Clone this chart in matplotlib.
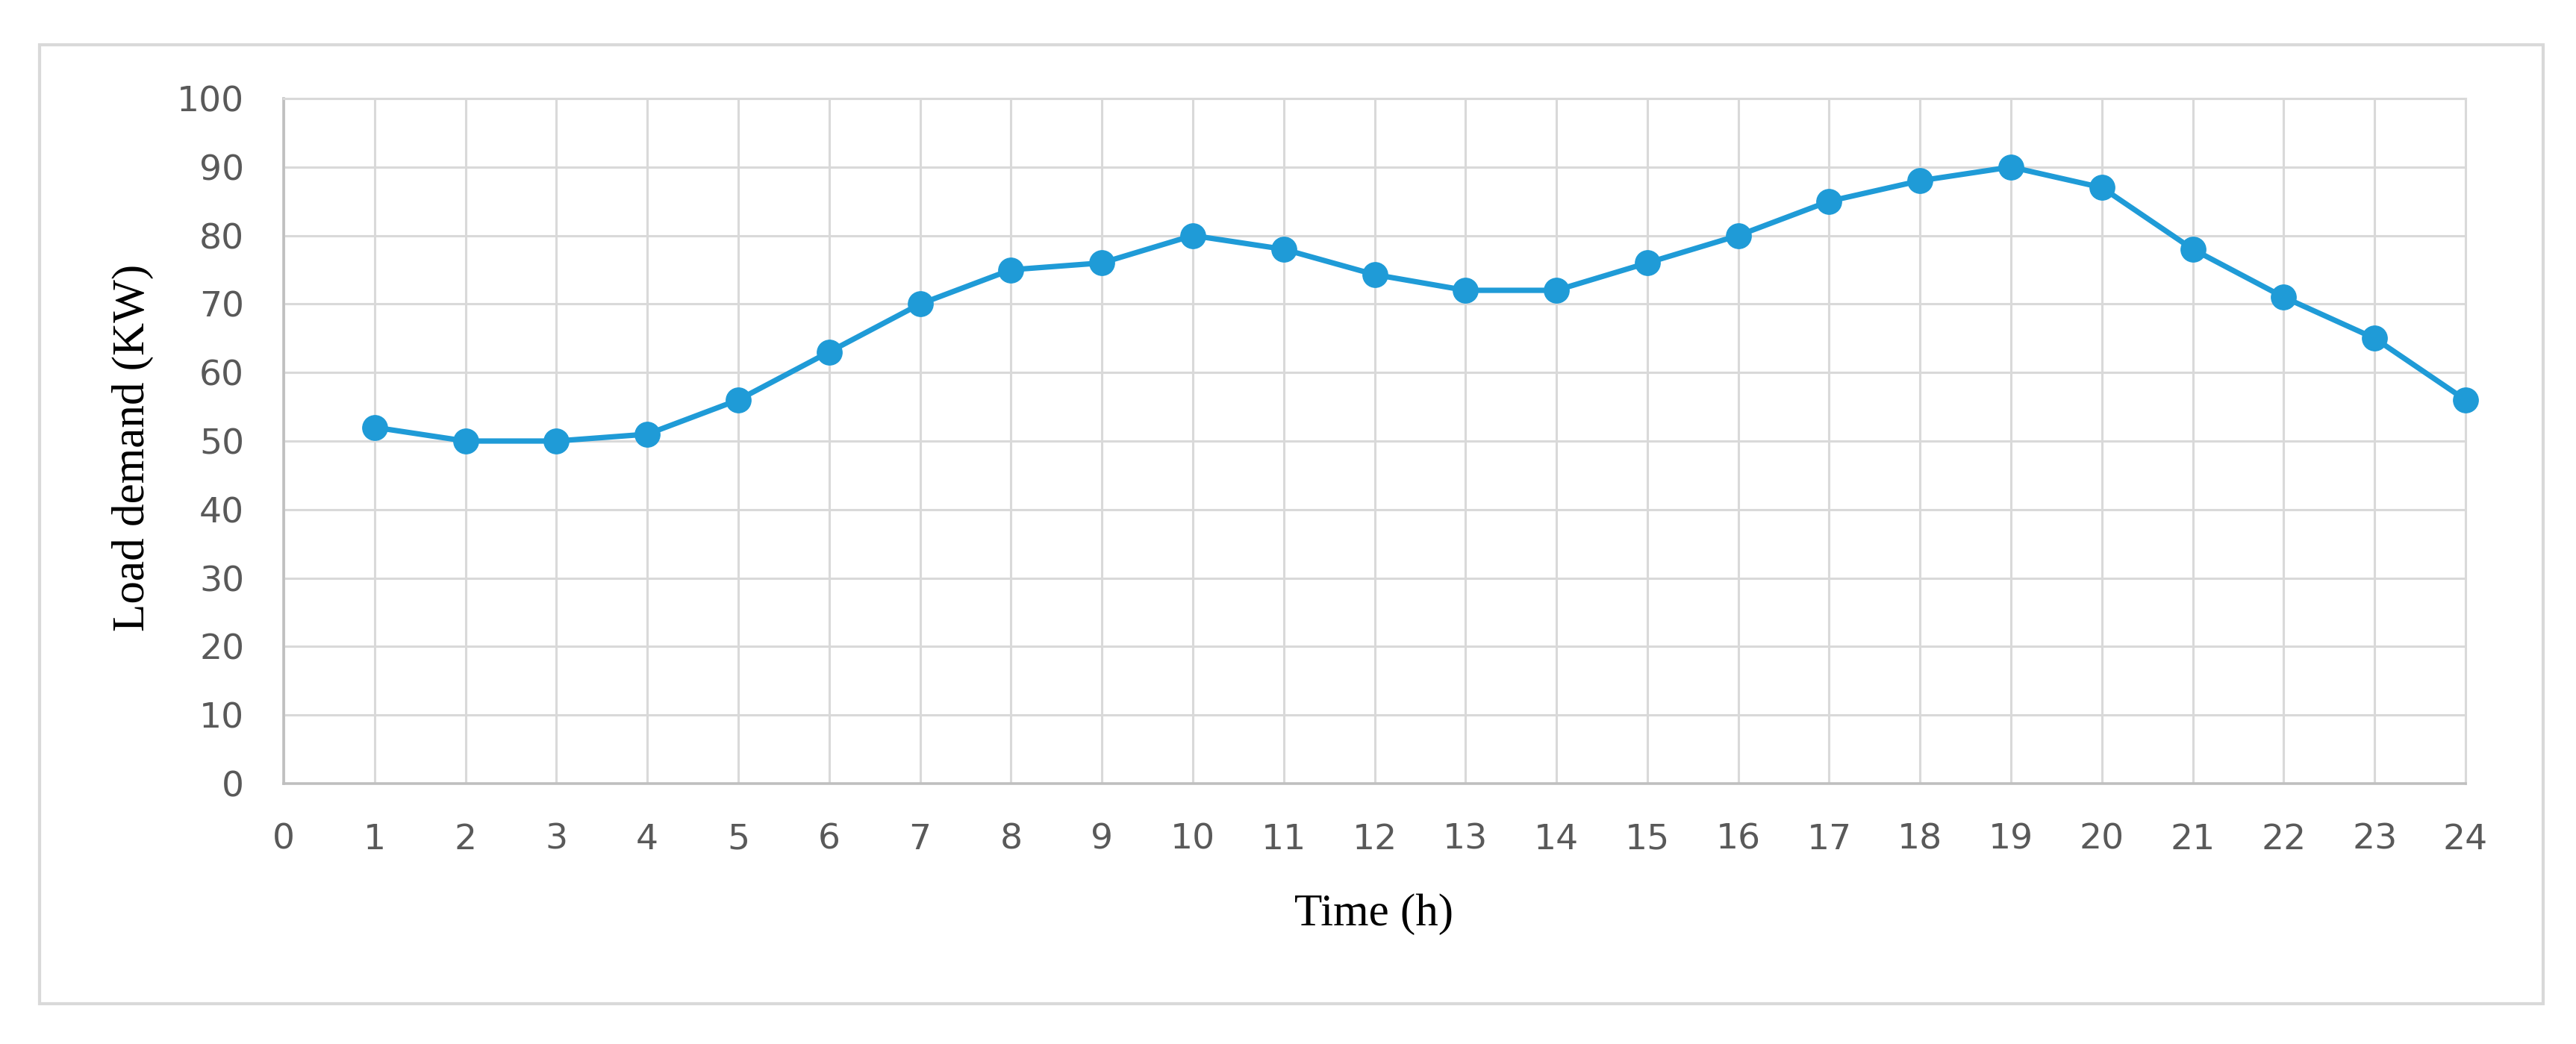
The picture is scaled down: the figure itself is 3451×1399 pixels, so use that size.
import matplotlib
matplotlib.use('Agg')
import matplotlib.pyplot as plt
from matplotlib.patches import Rectangle

# hourly load profile
hours = list(range(1, 25))
load_kw = [52, 50, 50, 51, 56, 63, 70, 75, 76, 80, 78, 74.3,
           72, 72, 76, 80, 85, 88, 90, 87, 78, 71, 65, 56]
x_ticks = list(range(0, 25))
y_ticks = list(range(0, 101, 10))

W, H, DPI = 3451, 1399, 100
BLUE = '#1F9BD7'
GRID = '#D9D9D9'
TICK = '#595959'

fig = plt.figure(figsize=(W / DPI, H / DPI), dpi=DPI)
ax = fig.add_axes([380 / W, 1 - 1050 / H, 2923 / W, 918 / H])

# outer chart-area frame
fig.patches.append(Rectangle((53 / W, 1 - 1345 / H), 3354 / W, 1285 / H,
                             transform=fig.transFigure, fill=False,
                             edgecolor=GRID, linewidth=3))

ax.plot(hours, load_kw, color=BLUE, linewidth=5.2, marker='o',
        markersize=24, markerfacecolor=BLUE, markeredgecolor=BLUE,
        solid_joinstyle='round', solid_capstyle='round', zorder=3,
        clip_on=False)

ax.set_xlim(0, 24)
ax.set_ylim(0, 100)
ax.set_xticks(x_ticks)
ax.set_yticks(y_ticks)
ax.grid(True, color=GRID, linewidth=2.2)
ax.set_axisbelow(True)

for side in ('top', 'right'):
    ax.spines[side].set_color(GRID)
    ax.spines[side].set_linewidth(2.2)
for side in ('left', 'bottom'):
    ax.spines[side].set_color('#BFBFBF')
    ax.spines[side].set_linewidth(2.6)

ax.tick_params(axis='both', length=0, labelsize=34, labelcolor=TICK)
ax.tick_params(axis='x', pad=38)
ax.tick_params(axis='y', pad=38)
for lab in ax.get_xticklabels() + ax.get_yticklabels():
    lab.set_family('DejaVu Sans')

fig.text(1840 / W, 1 - 1225 / H, 'Time (h)', family='Liberation Serif',
         fontsize=44, color='black', ha='center', va='center')
fig.text(178 / W, 1 - 600 / H, 'Load demand (KW)', family='Liberation Serif',
         fontsize=44, color='black', ha='center', va='center', rotation=90)

fig.savefig('out.png', dpi=DPI)
